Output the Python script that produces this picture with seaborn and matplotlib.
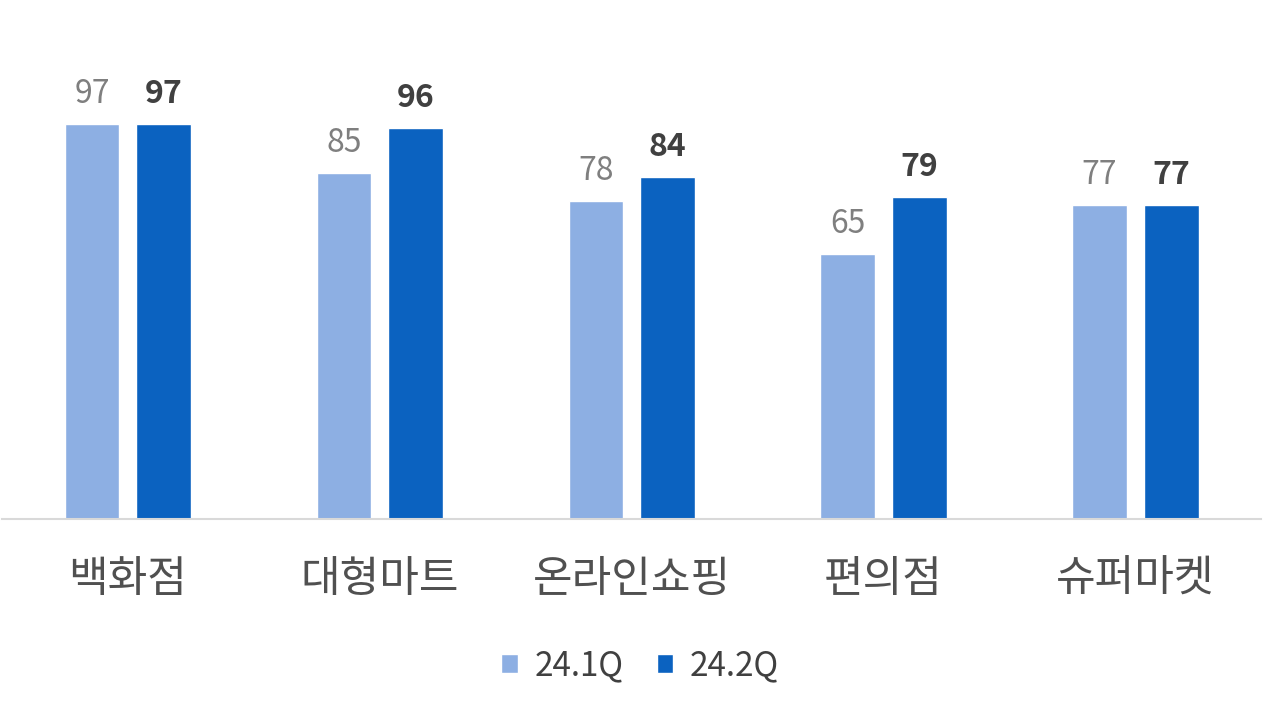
import matplotlib
matplotlib.use("Agg")
import matplotlib.pyplot as plt
import seaborn as sns
import pandas as pd
from matplotlib.patches import Patch

categories = ["백화점", "대형마트", "온라인쇼핑", "편의점", "슈퍼마켓"]
series_names = ["24.1Q", "24.2Q"]
q1_values = [97, 85, 78, 65, 77]
q2_values = [97, 96, 84, 79, 77]

df = pd.DataFrame({
    "category": categories * 2,
    "quarter": [series_names[0]] * len(categories) + [series_names[1]] * len(categories),
    "value": q1_values + q2_values,
})

sns.set_theme(style="white")
plt.rcParams["font.family"] = ["Noto Sans CJK KR", "DejaVu Sans"]

light = "#8DAFE3"
dark = "#0B62C0"

fig = plt.figure(figsize=(12.8, 7.2), dpi=100)
ax = fig.add_axes([0.0015, 0.279, 0.984, 0.665])

sns.barplot(data=df, x="category", y="value", hue="quarter", order=categories,
            hue_order=series_names, palette=[light, dark], width=0.57, gap=0.24,
            ax=ax, legend=False, saturation=1)

ax.set_xlim(-0.5, 4.5)
ax.set_ylim(0, 117.5)
ax.set_xlabel("")
ax.set_ylabel("")
ax.set_yticks([])
for s in ["top", "right", "left"]:
    ax.spines[s].set_visible(False)
ax.spines["bottom"].set_color("#d9d9d9")
ax.spines["bottom"].set_linewidth(1.5)
ax.tick_params(axis="x", length=0, pad=28, labelsize=31, labelcolor="#505050")

cont1, cont2 = ax.containers[0], ax.containers[1]
ax.bar_label(cont1, labels=[str(v) for v in q1_values], padding=10, fontsize=23,
             color="#7f7f7f")
ax.bar_label(cont2, labels=[str(v) for v in q2_values], padding=10, fontsize=23,
             color="#404040", fontweight="bold")

handles = [Patch(facecolor=light, label=series_names[0]),
           Patch(facecolor=dark, label=series_names[1])]
fig.legend(handles=handles, loc="center", bbox_to_anchor=(0.5, 0.075), ncol=2,
           frameon=False, fontsize=24, handlelength=0.5, handleheight=0.5,
           handletextpad=0.5, columnspacing=1.0, labelcolor="#404040")

fig.savefig("out.png", dpi=100, facecolor="white")
